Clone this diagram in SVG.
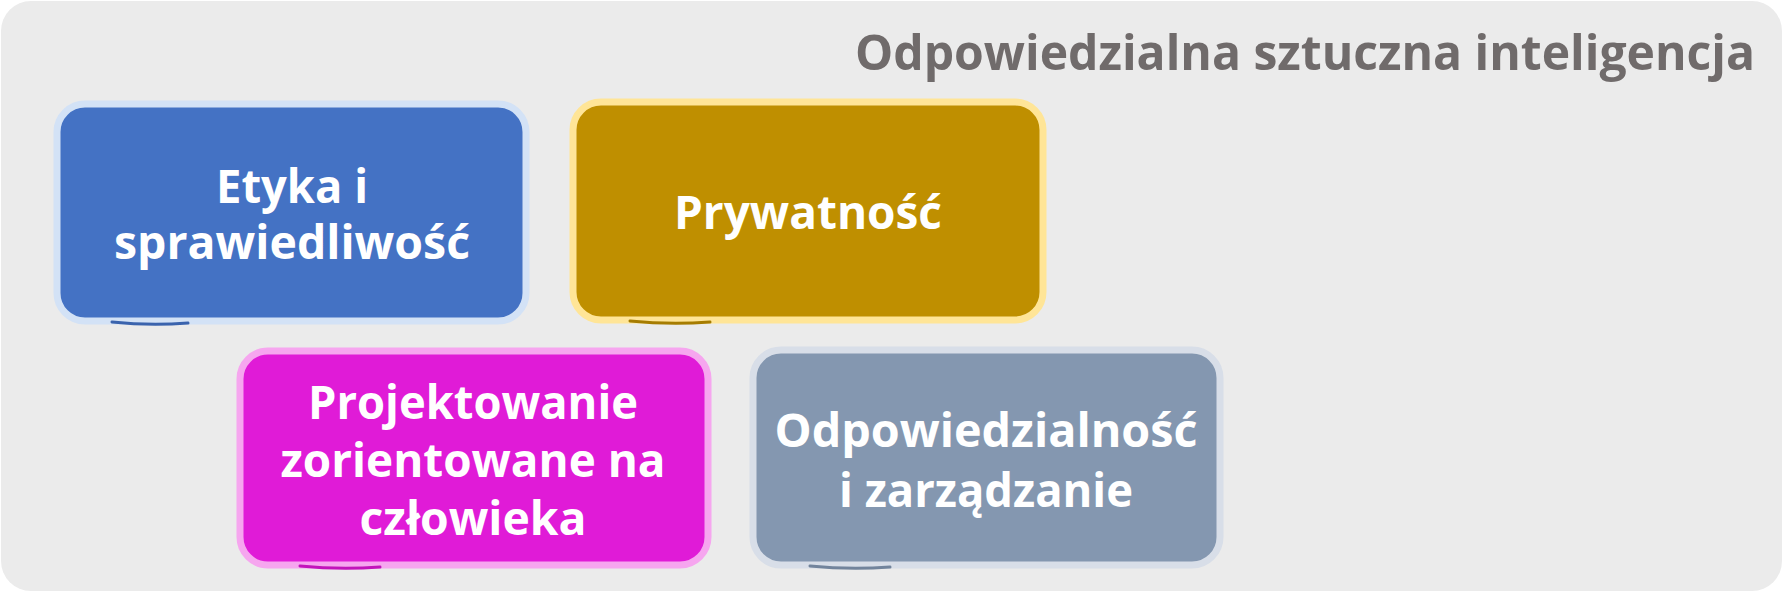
<svg xmlns="http://www.w3.org/2000/svg" width="1783" height="592" viewBox="0 0 1783 592">
  <style>
    .lbl { font-family: "Open Sans", "Noto Sans", "DejaVu Sans", sans-serif; font-weight: 700; font-size: 46px; fill: #ffffff; text-anchor: middle; }
    .title { font-family: "Open Sans", "Noto Sans", "DejaVu Sans", sans-serif; font-weight: 700; font-size: 49px; fill: #706b6b; text-anchor: end; }
    .box { stroke-width: 7; stroke-linejoin: round; }
  </style>
  <rect id="background" x="1" y="1" width="1781" height="590" rx="30" ry="30" fill="#ebebeb"/>
  <text class="title" x="1755" y="70" textLength="900" lengthAdjust="spacingAndGlyphs">Odpowiedzialna sztuczna inteligencja</text>
  <g id="connectors"/>
  <g id="node-etyka">
    <rect class="box" x="57" y="104" width="469" height="217" rx="28" ry="28" fill="#4472c4" stroke="#d3e2f6"/>
    <path d="M112 322 Q150 326 188 323" stroke="#3a63ad" stroke-width="3" fill="none" stroke-linecap="round"/>
    <text class="lbl" x="292" y="203" textLength="152" lengthAdjust="spacingAndGlyphs">Etyka i</text>
    <text class="lbl" x="292" y="259" textLength="356" lengthAdjust="spacingAndGlyphs">sprawiedliwość</text>
  </g>
  <g id="node-prywatnosc">
    <rect class="box" x="573" y="102" width="470" height="218" rx="28" ry="28" fill="#bf8f00" stroke="#ffe597"/>
    <path d="M630 321 Q670 325 710 322" stroke="#a67c00" stroke-width="3" fill="none" stroke-linecap="round"/>
    <text class="lbl" x="808" y="229" textLength="268" lengthAdjust="spacingAndGlyphs">Prywatność</text>
  </g>
  <g id="node-projektowanie">
    <rect class="box" x="240" y="351" width="468" height="214" rx="28" ry="28" fill="#e01bd7" stroke="#f6a6ef"/>
    <path d="M300 566 Q340 570 380 567" stroke="#c214bb" stroke-width="3" fill="none" stroke-linecap="round"/>
    <text class="lbl" x="473" y="419" textLength="330" lengthAdjust="spacingAndGlyphs">Projektowanie</text>
    <text class="lbl" x="473" y="477" textLength="385" lengthAdjust="spacingAndGlyphs">zorientowane na</text>
    <text class="lbl" x="473" y="535" textLength="227" lengthAdjust="spacingAndGlyphs">człowieka</text>
  </g>
  <g id="node-odpowiedzialnosc">
    <rect class="box" x="753" y="350" width="467" height="215" rx="28" ry="28" fill="#8497b0" stroke="#d8dee8"/>
    <path d="M810 566 Q850 570 890 567" stroke="#72849c" stroke-width="3" fill="none" stroke-linecap="round"/>
    <text class="lbl" x="986" y="447" textLength="423" lengthAdjust="spacingAndGlyphs">Odpowiedzialność</text>
    <text class="lbl" x="986" y="507" textLength="294" lengthAdjust="spacingAndGlyphs">i zarządzanie</text>
  </g>
</svg>
